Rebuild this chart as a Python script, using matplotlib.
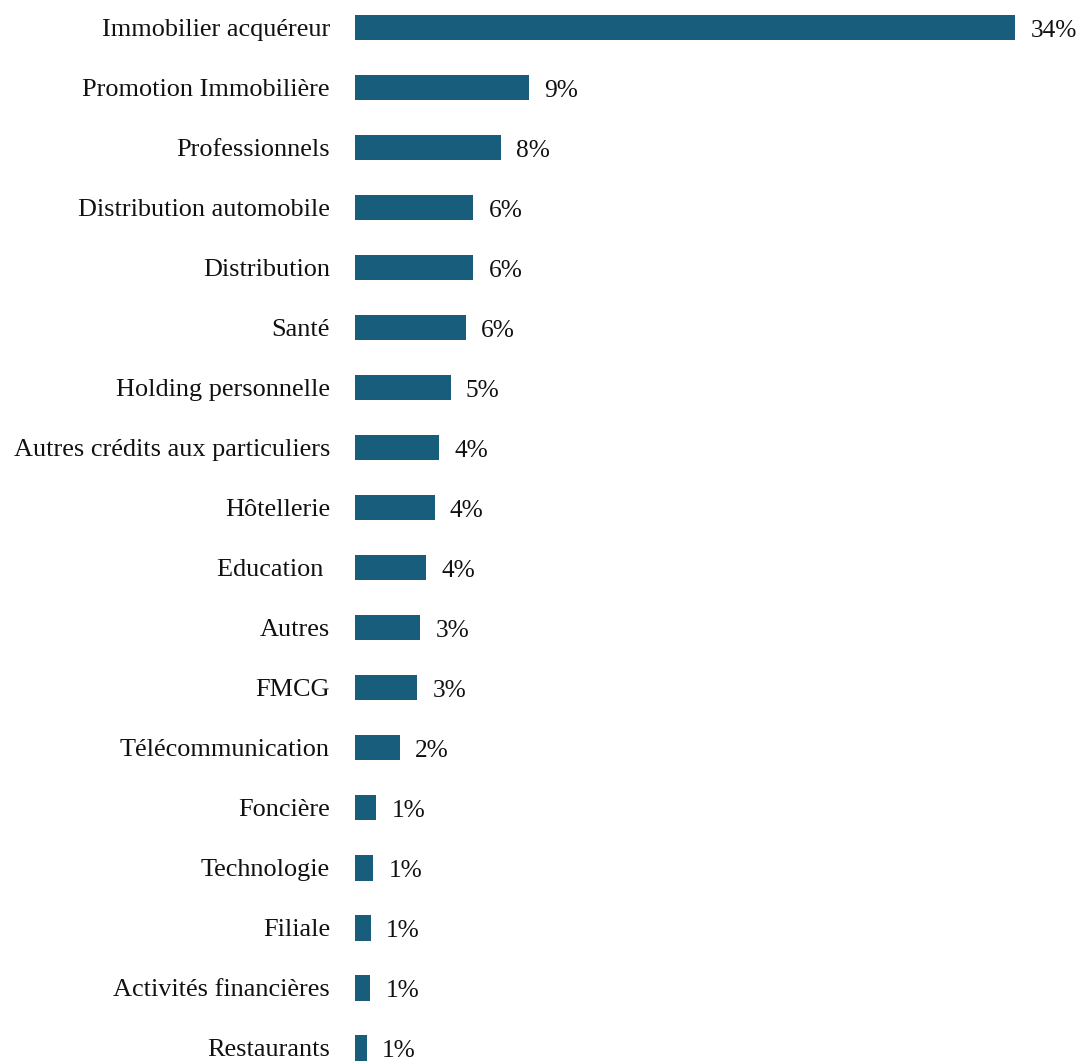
import matplotlib
matplotlib.use("Agg")
import matplotlib.pyplot as plt

categories = [
    "Immobilier acquéreur", "Promotion Immobilière", "Professionnels",
    "Distribution automobile", "Distribution", "Santé", "Holding personnelle",
    "Autres crédits aux particuliers", "Hôtellerie", "Education ", "Autres",
    "FMCG", "Télécommunication", "Foncière", "Technologie", "Filiale",
    "Activités financières", "Restaurants",
]
shares = [34.2, 9.0, 7.54, 6.13, 6.13, 5.73, 4.95, 4.35, 4.12, 3.69, 3.38,
          3.23, 2.33, 1.09, 0.95, 0.81, 0.78, 0.62]

W, H = 1081, 1061
fig = plt.figure(figsize=(W / 100, H / 100), dpi=100)
x0, x1 = 355 / W, 1015 / W
ax = fig.add_axes([x0, 0, x1 - x0, 1])

bar_color = "#195d7c"
ypos = list(range(len(categories)))
ax.barh(ypos, shares, height=0.42, color=bar_color)

ax.set_xlim(0, max(shares))
ax.set_ylim(17 + 13 / 60, -27.5 / 60)

font = "Liberation Serif"
ax.set_yticks(ypos)
ax.set_yticklabels(categories, fontsize=18.9, family=font, color="#111111")
ax.tick_params(axis="y", length=0, pad=18)
ax.set_xticks([])
for s in ax.spines.values():
    s.set_visible(False)

for y, v in zip(ypos, shares):
    ax.annotate(f"{round(v):d}%", xy=(v, y), xytext=(11, -0.5),
                textcoords="offset points", ha="left", va="center_baseline",
                fontsize=18.3, family=font, color="#111111",
                annotation_clip=False)

fig.savefig("out.png", dpi=100)
